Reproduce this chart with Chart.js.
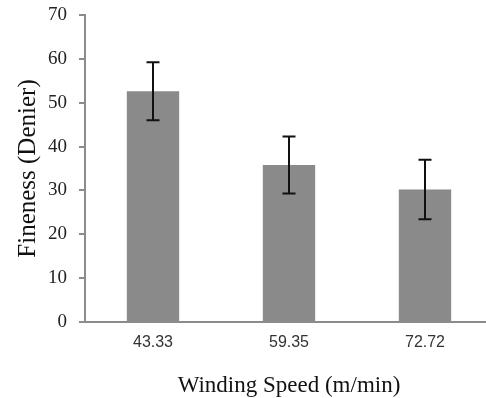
<!DOCTYPE html>
<html>
<head>
<meta charset="utf-8">
<script src="https://cdn.jsdelivr.net/npm/chart.js@4.4.1/dist/chart.umd.min.js"></script>
<style>
  html, body { margin: 0; padding: 0; background: #fff; overflow: hidden; }
  #wrap { width: 493px; height: 398px; }
</style>
</head>
<body>
<div id="wrap"><canvas id="chart-fineness" width="493" height="398"></canvas></div>
<script>
const categories = ['43.33', '59.35', '72.72'];
const fineness = [52.6, 35.8, 30.2];
const finenessErr = [6.6, 6.5, 6.8];

// draws the +/- error bars using the chart's own scales
const errorBars = {
    id: 'errorBars',
    afterDatasetsDraw(chart) {
        const ctx = chart.ctx;
        const x = chart.scales.x, y = chart.scales.y;
        ctx.save();
        ctx.strokeStyle = '#111';
        ctx.lineWidth = 2;
        fineness.forEach((v, i) => {
            const px = x.getPixelForValue(i);
            const top = y.getPixelForValue(v + finenessErr[i]);
            const bot = y.getPixelForValue(v - finenessErr[i]);
            ctx.beginPath();
            ctx.moveTo(px, top); ctx.lineTo(px, bot);
            ctx.moveTo(px - 6.5, top); ctx.lineTo(px + 6.5, top);
            ctx.moveTo(px - 6.5, bot); ctx.lineTo(px + 6.5, bot);
            ctx.stroke();
        });
        ctx.restore();
    }
};

const ctx = document.getElementById('chart-fineness').getContext('2d');
new Chart(ctx, {
    type: 'bar',
    data: {
        labels: categories,
        datasets: [{
            label: 'Fineness',
            data: fineness,
            backgroundColor: '#8a8a8a',
            categoryPercentage: 1,
            barPercentage: 0.385
        }]
    },
    options: {
        responsive: false,
        animation: false,
        layout: { padding: { top: 15, left: 0, right: 0, bottom: 0 } },
        plugins: { legend: { display: false }, tooltip: { enabled: false } },
        scales: {
            x: {
                afterFit: s => { s.height = 76; s.paddingLeft = 0; s.paddingRight = 0; },
                grid: { display: false, drawTicks: false },
                border: { color: '#8c8c8c', width: 2 },
                ticks: { color: '#333', padding: 11, font: { family: 'Liberation Sans', size: 16 } },
                title: {
                    display: true, text: 'Winding Speed (m/min)', color: '#111',
                    font: { family: 'Liberation Serif', size: 23 }, padding: { top: 0, bottom: -2 }
                }
            },
            y: {
                min: 0, max: 70,
                afterFit: s => { s.width = 85; s.paddingTop = 0; s.paddingBottom = 0; },
                grid: { display: true, drawOnChartArea: false, drawTicks: true, tickLength: 6, color: '#8c8c8c', lineWidth: 2 },
                border: { color: '#8c8c8c', width: 2 },
                ticks: { stepSize: 10, color: '#222', padding: 12, font: { family: 'Liberation Serif', size: 19 } },
                title: {
                    display: true, text: 'Fineness (Denier)', color: '#111',
                    font: { family: 'Liberation Serif', size: 25 }, padding: { top: 13, bottom: 0 }
                }
            }
        }
    },
    plugins: [errorBars]
});
</script>
</body>
</html>
